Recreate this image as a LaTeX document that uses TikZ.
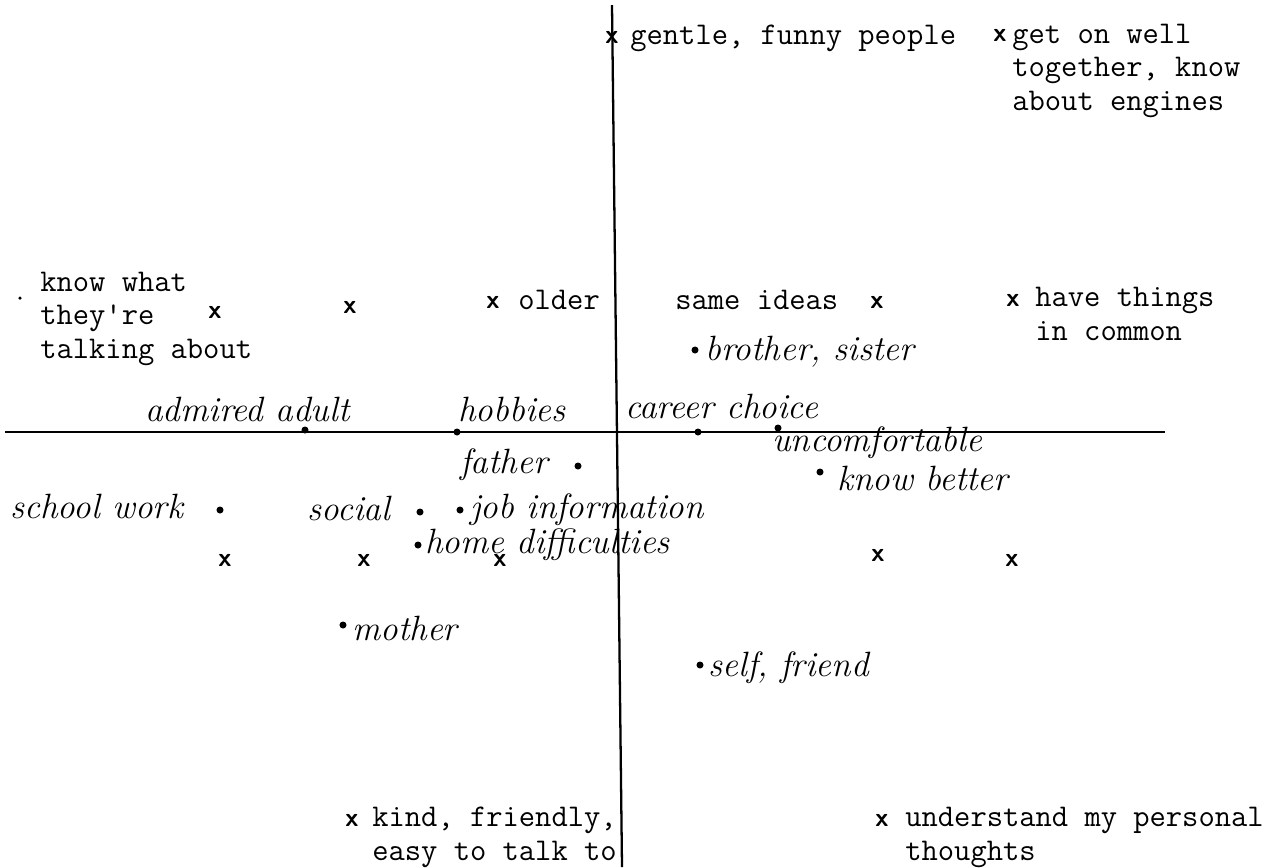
\documentclass[tikz,border=0pt]{standalone}
\usepackage{fontspec}
\tikzset{
	tw/.style={font=\fontsize{18}{19}\selectfont\ttfamily, inner sep=0, anchor=base west, align=left},
	hand/.style={font=\fontsize{20}{22}\selectfont\itshape, inner sep=0, anchor=base west},
	pt/.style={circle, fill=black, inner sep=0, minimum size=4pt},
	cross/.style={font=\fontsize{15}{15}\selectfont\sffamily\bfseries, inner sep=0}
}
\begin{document}
\begin{tikzpicture}[x=0.02cm, y=-0.02cm]
	\useasboundingbox (0,0) rectangle (1274,867);

	\coordinate (top) at (612,5);
	\coordinate (bottom) at (622,867);
	\coordinate (left) at (5,432);
	\coordinate (right) at (1165,432);
	\draw[line width=1.3pt] (top) -- (bottom);
	\draw[line width=1.3pt] (left) -- (right);

	\node (xGentle) at (612,37) [cross] {x};
	\node (gentle) at (630,44) [tw] {gentle, funny people};
	\node (xEngines) at (1000,35) [cross] {x};
	\node (engines) at (1012,110) [tw] {get on well\\together, know\\about engines};

	\node (dKnow) at (20,298) [pt, minimum size=2pt] {};
	\node (know) at (40,358) [tw] {know what\\they're\\talking about};
	\node (xKnowA) at (215,312) [cross] {x};
	\node (xKnowB) at (350,307) [cross] {x};
	\node (xOlder) at (493,302) [cross] {x};
	\node (older) at (518,309) [tw] {older};
	\node (same) at (675,309) [tw] {same ideas};
	\node (xSame) at (877,302) [cross] {x};
	\node (xCommon) at (1013,300) [cross] {x};
	\node (common) at (1035,340) [tw] {have things\\ in common};

	\node (dBrother) at (695,350) [pt] {};
	\node (brother) at (705,360) [hand] {brother, sister};

	\node (admired) at (145,421) [hand] {admired adult};
	\node (dAdmired) at (305,430) [pt] {};
	\node (hobbies) at (458,421) [hand] {hobbies};
	\node (dHobbies) at (457,432) [pt] {};
	\node (career) at (625,418) [hand] {career choice};
	\node (dCareer) at (698,432) [pt] {};
	\node (dUncomf) at (778,428) [pt] {};
	\node (uncomf) at (772,451) [hand] {uncomfortable};
	\node (dBetter) at (820,472) [pt] {};
	\node (better) at (837,490) [hand] {know better};

	\node (father) at (460,473) [hand] {father};
	\node (dFather) at (578,466) [pt] {};
	\node (school) at (10,518) [hand] {school work};
	\node (dSchool) at (220,510) [pt] {};
	\node (social) at (307,520) [hand] {social};
	\node (dSocial) at (420,512) [pt] {};
	\node (dJob) at (460,510) [pt] {};
	\node (job) at (470,518) [hand] {job information};
	\node (dHome) at (418,545) [pt] {};
	\node (home) at (425,553) [hand] {home difficulties};

	\node (xRowA) at (225,560) [cross] {x};
	\node (xRowB) at (364,560) [cross] {x};
	\node (xRowC) at (500,560) [cross] {x};
	\node (xRowD) at (878,555) [cross] {x};
	\node (xRowE) at (1012,560) [cross] {x};

	\node (dMother) at (343,625) [pt] {};
	\node (mother) at (352,640) [hand] {mother};
	\node (dSelf) at (700,665) [pt] {};
	\node (self) at (708,676) [hand] {self, friend};

	\node (xKind) at (352,820) [cross] {x};
	\node (kind) at (372,860) [tw] {kind, friendly,\\easy to talk to};
	\node (xThoughts) at (882,820) [cross] {x};
	\node (thoughts) at (905,860) [tw] {understand my personal\\thoughts};
\end{tikzpicture}
\end{document}
